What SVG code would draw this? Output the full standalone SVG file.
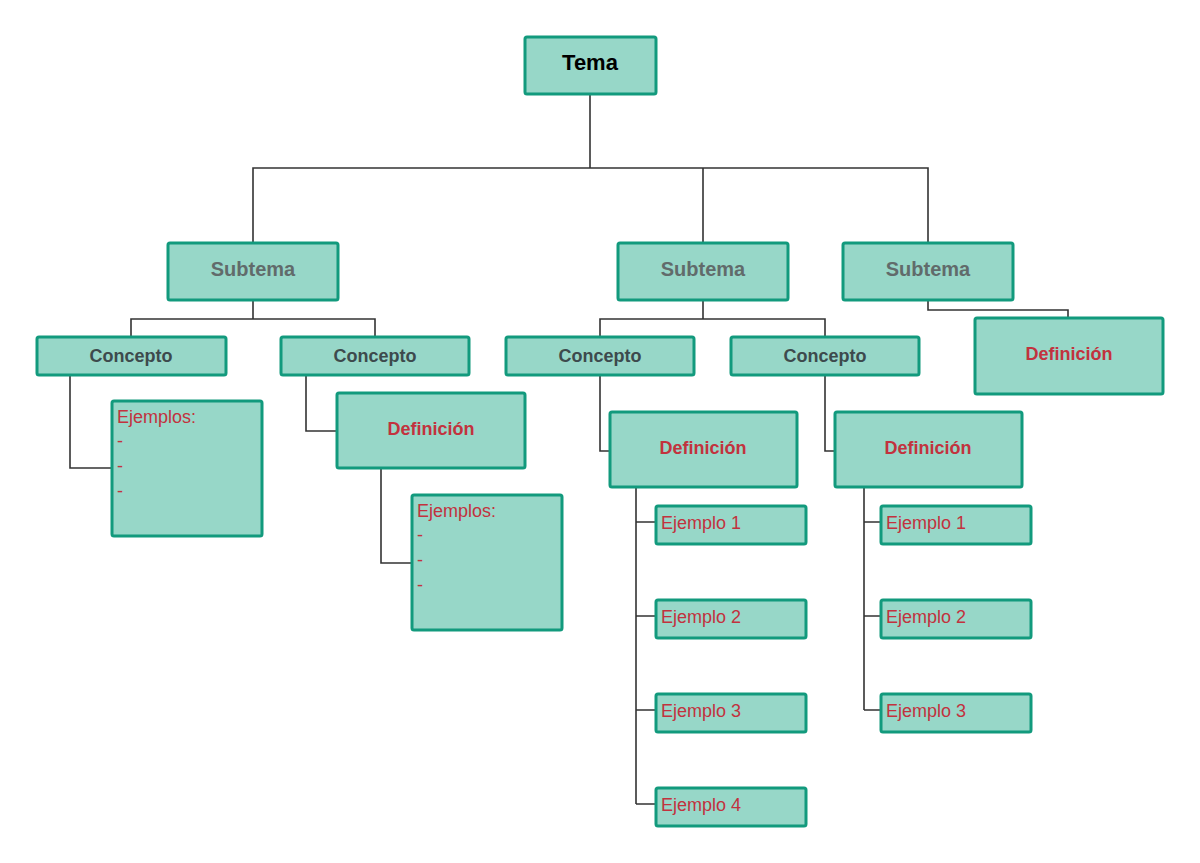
<svg xmlns="http://www.w3.org/2000/svg" width="1200" height="863" viewBox="0 0 1200 863">
<style>
.b{fill:#97d7c8;stroke:#129a7d;stroke-width:3}
.c{fill:none;stroke:#333;stroke-width:1.6}
text{font-family:"Liberation Sans",Arial,sans-serif}
.t{font-size:22px;font-weight:bold;fill:#000;text-anchor:middle}
.s{font-size:20px;font-weight:bold;fill:#616b6b;text-anchor:middle}
.k{font-size:18px;font-weight:bold;fill:#3d4a4d;text-anchor:middle}
.d{font-size:18px;font-weight:bold;fill:#c2323e;text-anchor:middle}
.e{font-size:18px;fill:#c2323e}
</style>
<rect width="1200" height="863" fill="#fff"/>
<g id="connectors" class="c">
<path d="M590 94V168M253 243V168H928V243M703 168V243"/>
<path d="M253 300V319M131 337V319H375V337"/>
<path d="M703 300V319M600 337V319H825V337"/>
<path d="M928 300V310H1068V318"/>
<path d="M70 375V468H112"/>
<path d="M306 375V431H337"/>
<path d="M381 468V563H412"/>
<path d="M600 375V451H610"/>
<path d="M825 375V451H835"/>
<path d="M636 487V804M636 522H656M636 616H656M636 710H656M636 804H656"/>
<path d="M864 487V710M864 522H881M864 616H881M864 710H881"/>
</g>
<g id="tema"><rect class="b" x="525" y="37" width="131" height="57" rx="2"/><text class="t" x="590" y="70">Tema</text></g>
<g id="sub1"><rect class="b" x="168" y="243" width="170" height="57" rx="2"/><text class="s" x="253" y="276">Subtema</text></g>
<g id="sub2"><rect class="b" x="618" y="243" width="170" height="57" rx="2"/><text class="s" x="703" y="276">Subtema</text></g>
<g id="sub3"><rect class="b" x="843" y="243" width="170" height="57" rx="2"/><text class="s" x="928" y="276">Subtema</text></g>
<g id="con1"><rect class="b" x="37" y="337" width="189" height="38" rx="2"/><text class="k" x="131" y="362">Concepto</text></g>
<g id="con2"><rect class="b" x="281" y="337" width="188" height="38" rx="2"/><text class="k" x="375" y="362">Concepto</text></g>
<g id="con3"><rect class="b" x="506" y="337" width="188" height="38" rx="2"/><text class="k" x="600" y="362">Concepto</text></g>
<g id="con4"><rect class="b" x="731" y="337" width="188" height="38" rx="2"/><text class="k" x="825" y="362">Concepto</text></g>
<g id="def0"><rect class="b" x="975" y="318" width="188" height="76" rx="2"/><text class="d" x="1069" y="360">Definición</text></g>
<g id="def2"><rect class="b" x="337" y="393" width="188" height="75" rx="2"/><text class="d" x="431" y="435">Definición</text></g>
<g id="def3"><rect class="b" x="610" y="412" width="187" height="75" rx="2"/><text class="d" x="703" y="454">Definición</text></g>
<g id="def4"><rect class="b" x="835" y="412" width="187" height="75" rx="2"/><text class="d" x="928" y="454">Definición</text></g>
<g id="ej1"><rect class="b" x="112" y="401" width="150" height="135" rx="2"/><text class="e" x="117" y="423">Ejemplos:</text><text class="e" x="117" y="447">-</text><text class="e" x="117" y="472">-</text><text class="e" x="117" y="497">-</text></g>
<g id="ej2"><rect class="b" x="412" y="495" width="150" height="135" rx="2"/><text class="e" x="417" y="517">Ejemplos:</text><text class="e" x="417" y="541">-</text><text class="e" x="417" y="566">-</text><text class="e" x="417" y="591">-</text></g>
<g id="e31"><rect class="b" x="656" y="506" width="150" height="38" rx="2"/><text class="e" x="661" y="529">Ejemplo 1</text></g>
<g id="e32"><rect class="b" x="656" y="600" width="150" height="38" rx="2"/><text class="e" x="661" y="623">Ejemplo 2</text></g>
<g id="e33"><rect class="b" x="656" y="694" width="150" height="38" rx="2"/><text class="e" x="661" y="717">Ejemplo 3</text></g>
<g id="e34"><rect class="b" x="656" y="788" width="150" height="38" rx="2"/><text class="e" x="661" y="811">Ejemplo 4</text></g>
<g id="e41"><rect class="b" x="881" y="506" width="150" height="38" rx="2"/><text class="e" x="886" y="529">Ejemplo 1</text></g>
<g id="e42"><rect class="b" x="881" y="600" width="150" height="38" rx="2"/><text class="e" x="886" y="623">Ejemplo 2</text></g>
<g id="e43"><rect class="b" x="881" y="694" width="150" height="38" rx="2"/><text class="e" x="886" y="717">Ejemplo 3</text></g>
</svg>
